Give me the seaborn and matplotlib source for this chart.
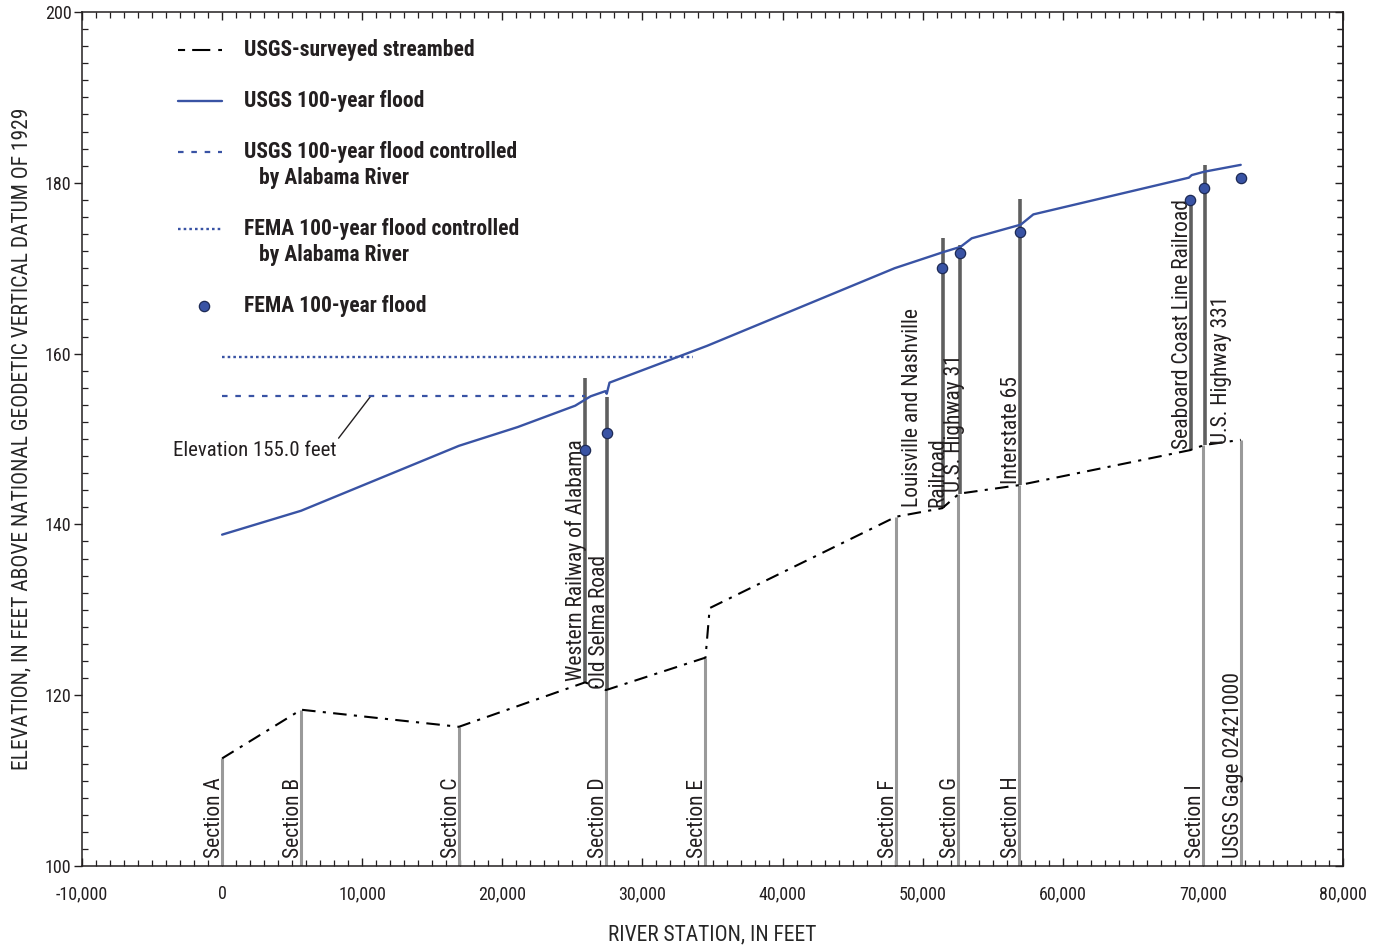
import matplotlib
matplotlib.use('Agg')
import matplotlib.pyplot as plt
from matplotlib import font_manager
from matplotlib.lines import Line2D
from matplotlib.ticker import MultipleLocator, FuncFormatter
import seaborn as sns
import pandas as pd

# ---- data ----
bed_x = [0, 5640, 16900, 25900, 27400, 34500, 34800, 48100, 51400, 52600, 56900, 69100, 70100, 72700]
bed_y = [112.6, 118.3, 116.3, 121.5, 120.6, 124.4, 130.2, 140.9, 141.9, 143.6, 144.6, 148.7, 149.3, 149.9]

flood_x = [0, 5640, 16900, 21100, 25200, 25900, 26300, 27350, 27450, 27650, 34600, 48000,
           51500, 52700, 53500, 57000, 57900, 69000, 69200, 70100, 72700]
flood_y = [138.8, 141.6, 149.2, 151.4, 153.9, 154.6, 155.0, 155.6, 155.3, 156.6, 160.9, 170.0,
           171.9, 172.5, 173.5, 175.1, 176.3, 180.6, 180.9, 181.3, 182.1]

usgs_ctrl_x = [0, 25900]
usgs_ctrl_y = [155.0, 155.0]
fema_ctrl_x = [0, 33600]
fema_ctrl_y = [159.6, 159.6]

fema_x = [25900, 27500, 51400, 52700, 56950, 69100, 70100, 72700]
fema_y = [148.7, 150.7, 170.0, 171.8, 174.2, 178.0, 179.4, 180.6]

sec_names = ['Section A', 'Section B', 'Section C', 'Section D', 'Section E', 'Section F',
             'Section G', 'Section H', 'Section I', 'USGS Gage 02421000']
sec_x = [0, 5640, 16900, 27400, 34500, 48100, 52550, 56900, 70000, 72700]
sec_top = [112.6, 118.3, 116.3, 120.6, 124.4, 140.9, 143.6, 144.6, 149.3, 149.9]

br_names = ['Western Railway of Alabama', 'Old Selma Road', 'Louisville and Nashville\nRailroad',
            'U.S. Highway 31', 'Interstate 65', 'Seaboard Coast Line Railroad', 'U.S. Highway 331']
br_x = [25900, 27500, 51450, 52700, 56950, 69150, 70150]
br_bottom = [121.5, 120.6, 141.9, 143.6, 144.6, 148.7, 149.3]
br_top = [157.1, 154.9, 173.5, 172.7, 178.1, 178.2, 182.1]
br_gap = [-2, -2, -3, -0.3, -2, -2, 4.5]   # label offset from bar, points

BLUE = '#3953a4'
INK = '#231f20'

# ---- fonts: prefer a narrow face like the original ----
sns.set_style('ticks')
names = {f.name for f in font_manager.fontManager.ttflist}
if 'Liberation Sans Narrow' in names:
    FONT, K = 'Liberation Sans Narrow', 1.0
elif 'Roboto Condensed' in names:
    FONT, K = 'Roboto Condensed', 1.0
else:
    FONT, K = 'Liberation Sans', 0.85
plt.rcParams['font.family'] = [FONT, 'DejaVu Sans']
plt.rcParams['text.color'] = INK

fig = plt.figure(figsize=(13.77, 9.49), dpi=100)
ax = fig.add_axes([0.05955, 0.08746, 0.91576, 0.8999])

# sections (light gray) and bridges (dark gray)
ax.vlines(sec_x, 100, sec_top, color='#9a9a9a', lw=2.2, zorder=2)
ax.vlines(br_x, br_bottom, br_top, color='#5f5f5f', lw=2.6, zorder=2)

bed = pd.DataFrame({'x': bed_x, 'y': bed_y})
flood = pd.DataFrame({'x': flood_x, 'y': flood_y})
sns.lineplot(data=bed, x='x', y='y', ax=ax, sort=False, estimator=None, color='black',
             lw=1.5, linestyle=(0, (6.5, 3.5, 1.5, 3.5)), zorder=3)
sns.lineplot(data=flood, x='x', y='y', ax=ax, sort=False, estimator=None, color=BLUE,
             lw=1.7, zorder=4)
sns.lineplot(x=usgs_ctrl_x, y=usgs_ctrl_y, ax=ax, color=BLUE, lw=1.6,
             linestyle=(0, (2.5, 3.5)), zorder=4)
sns.lineplot(x=fema_ctrl_x, y=fema_ctrl_y, ax=ax, color=BLUE, lw=1.7,
             linestyle=(0, (1.1, 1.3)), zorder=4)
sns.scatterplot(x=fema_x, y=fema_y, ax=ax, color=BLUE, s=55, edgecolor='#1d2a55',
                linewidth=0.9, zorder=5)

# labels: rotated text anchored on its baseline, just beside each line
LAB = 15.5 * K
for name, x in zip(sec_names, sec_x):
    ax.annotate(name, xy=(x, 100), xytext=(-1.5, 6), textcoords='offset points',
                rotation=90, rotation_mode='anchor', ha='left', va='baseline', fontsize=LAB)
for name, x, yb, gap in zip(br_names, br_x, br_bottom, br_gap):
    ax.annotate(name, xy=(x, yb), xytext=(gap, 1), textcoords='offset points',
                rotation=90, rotation_mode='anchor', ha='left',
                va='baseline' if gap < 0 else 'top',
                ma='left', linespacing=1.3, fontsize=LAB)

ax.annotate('Elevation 155.0 feet', xy=(10600, 155.0), xytext=(2300, 148.6),
            ha='center', va='center', fontsize=15 * K,
            arrowprops=dict(arrowstyle='-', color=INK, lw=1.0, relpos=(1, 1),
                            shrinkA=0, shrinkB=0))

# manual legend (axes fraction)
leg_rows = [0.9555, 0.8958, 0.8361, 0.7459, 0.6557]
leg_text = ['USGS-surveyed streambed', 'USGS 100-year flood', 'USGS 100-year flood controlled',
            'FEMA 100-year flood controlled', 'FEMA 100-year flood']
leg_sub = {2: 'by Alabama River', 3: 'by Alabama River'}
styles = [dict(color='black', lw=1.5, linestyle=(0, (3.4, 3.4, 8.7, 3.8, 3.4, 10))),
          dict(color=BLUE, lw=1.7),
          dict(color=BLUE, lw=1.6, linestyle=(0, (2.5, 3.5))),
          dict(color=BLUE, lw=1.7, linestyle=(0, (1.1, 1.3)))]
for i, (yy, txt) in enumerate(zip(leg_rows, leg_text)):
    if i < 4:
        ax.add_line(Line2D([0.0761, 0.111], [yy, yy], transform=ax.transAxes, **styles[i]))
    else:
        ax.scatter([0.0964], [yy], transform=ax.transAxes, s=55, color=BLUE,
                   edgecolor='#1d2a55', linewidth=0.9, zorder=5)
    ax.text(0.1285, yy, txt, transform=ax.transAxes, va='center', ha='left',
            fontsize=15.5 * K, fontweight='bold')
    if i in leg_sub:
        ax.text(0.1404, yy - 0.0305, leg_sub[i], transform=ax.transAxes, va='center',
                ha='left', fontsize=15.5 * K, fontweight='bold')

# axes
ax.set_xlim(-10000, 80000)
ax.set_ylim(100, 200)
ax.xaxis.set_major_locator(MultipleLocator(10000))
ax.xaxis.set_minor_locator(MultipleLocator(1000))
ax.yaxis.set_major_locator(MultipleLocator(20))
ax.yaxis.set_minor_locator(MultipleLocator(2))
ax.xaxis.set_major_formatter(FuncFormatter(lambda v, p: f'{v:,.0f}'))
for s in ax.spines.values():
    s.set_visible(True)
    s.set_linewidth(1.1)
    s.set_color(INK)

ax.tick_params(axis='x', which='major', direction='in', top=True, bottom=True,
               length=6, width=1.0, pad=14, labelsize=13 * K, colors=INK)
ax.tick_params(axis='x', which='minor', direction='in', top=True, bottom=True,
               length=4, width=0.9, colors=INK)
ax.tick_params(axis='y', which='major', direction='out', left=True, right=False,
               length=6, width=1.0, pad=1.5, labelsize=13 * K, colors=INK)
ax.tick_params(axis='y', which='minor', direction='in', left=True, right=True,
               length=4, width=0.9, colors=INK)
right = ax.secondary_yaxis('right')
right.yaxis.set_major_locator(MultipleLocator(20))
right.yaxis.set_minor_locator(MultipleLocator(2))
right.tick_params(axis='y', which='major', direction='in', length=6, width=1.0,
                  labelright=False, colors=INK)
right.tick_params(axis='y', which='minor', direction='in', length=4, width=0.9, colors=INK)
right.spines['right'].set_linewidth(1.1)

ax.set_xlabel('RIVER STATION, IN FEET', fontsize=15.5 * K, labelpad=15)
ax.set_ylabel('ELEVATION, IN FEET ABOVE NATIONAL GEODETIC VERTICAL DATUM OF 1929',
              fontsize=15.5 * K, labelpad=9)

fig.savefig('out.png', dpi=100)
